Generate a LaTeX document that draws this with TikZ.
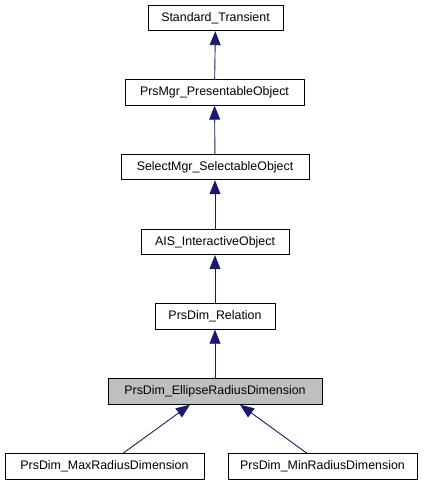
\documentclass[tikz,border=0pt]{standalone}
\usepackage{fontspec}
\setmainfont{Liberation Sans}
\usetikzlibrary{arrows.meta,calc}
\definecolor{edgeblue}{HTML}{191970}
\begin{document}
\begin{tikzpicture}[x=1pt,y=-1pt,
  cls/.style={draw=black,line width=0.9pt,fill=white,rectangle,inner sep=0pt,minimum height=25.5pt,font=\fontsize{12.4}{14}\selectfont},
  cur/.style={cls,fill=black!25},
  edge/.style={draw=edgeblue,line width=0.9pt,-{Triangle[length=14pt,width=11pt]}}]
\useasboundingbox (0,0) rectangle (429,485);
\node[cls,minimum width=135pt] (st) at (215.5,18) {Standard\_Transient};
\node[cls,minimum width=179pt] (pm) at (214.5,92.5) {PrsMgr\_PresentableObject};
\node[cls,minimum width=188pt] (sm) at (215,167) {SelectMgr\_SelectableObject};
\node[cls,minimum width=148pt] (ais) at (215,242) {AIS\_InteractiveObject};
\node[cls,minimum width=120pt] (pr) at (215,316.5) {PrsDim\_Relation};
\node[cur,minimum width=214pt] (er) at (215,391.5) {PrsDim\_EllipseRadiusDimension};
\node[cls,minimum width=199pt] (max) at (104.5,466.5) {PrsDim\_MaxRadiusDimension};
\node[cls,minimum width=189pt] (min) at (322.5,466.5) {PrsDim\_MinRadiusDimension};
\draw[edge] (pm) -- (st);
\draw[edge] (sm) -- (pm);
\draw[edge] (ais) -- (sm);
\draw[edge] (pr) -- (ais);
\draw[edge] (er) -- (pr);
\draw[edge] ($(max.north)+(18.5,0)$) -- ($(er.south)+(-25,0)$);
\draw[edge] ($(min.north)+(-15.5,0)$) -- ($(er.south)+(25,0)$);
\end{tikzpicture}
\end{document}
